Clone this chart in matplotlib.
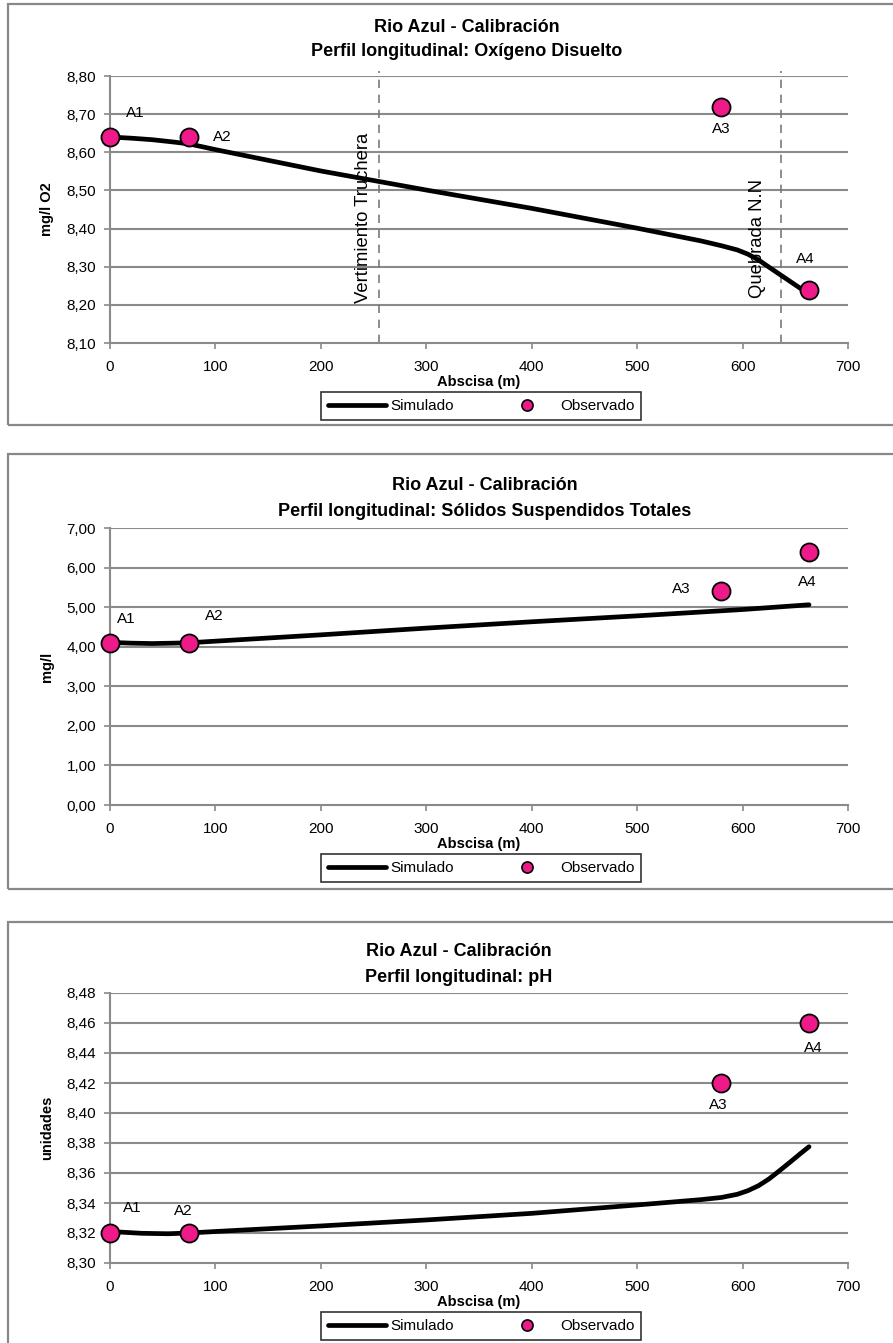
import matplotlib
matplotlib.use("Agg")
import matplotlib.pyplot as plt
from matplotlib.patches import Rectangle
from matplotlib.lines import Line2D
from matplotlib.ticker import FuncFormatter
from matplotlib import font_manager

# ---------------- data ----------------
obs_x = [0, 75, 580, 663]
obs_labels = ["A1", "A2", "A3", "A4"]

# Oxigeno disuelto
od_obs = [8.64, 8.64, 8.72, 8.24]
od_sim_x = [0, 20, 40, 60, 75, 100, 200, 300, 400, 500, 560, 580, 595, 605, 615, 625, 640, 663]
od_sim_y = [8.640, 8.637, 8.633, 8.627, 8.622, 8.607, 8.551, 8.501, 8.453, 8.401, 8.368,
            8.355, 8.344, 8.333, 8.318, 8.299, 8.271, 8.228]

# Solidos suspendidos totales
sst_obs = [4.10, 4.10, 5.40, 6.40]
sst_sim_x = [0, 20, 40, 60, 75, 100, 200, 300, 400, 500, 600, 663]
sst_sim_y = [4.11, 4.09, 4.08, 4.09, 4.10, 4.14, 4.30, 4.47, 4.63, 4.78, 4.94, 5.06]

# pH
ph_obs = [8.32, 8.32, 8.42, 8.46]
ph_sim_x = [0, 30, 55, 75, 100, 200, 300, 400, 500, 560, 580, 595, 605, 615, 625, 635, 645, 655, 663]
ph_sim_y = [8.321, 8.3198, 8.3195, 8.320, 8.321, 8.3247, 8.3287, 8.3331, 8.3387, 8.3422,
            8.3437, 8.3458, 8.3482, 8.3515, 8.3560, 8.3615, 8.3672, 8.3730, 8.3775]

vlines_x = [255, 636]
vlines_txt = ["Vertimiento Truchera", "Quebrada N.N"]
vlines_txt_x = [240, 614]
vlines_txt_y = [8.205, 8.218]

title_line1 = ["Rio Azul - Calibración"] * 3
title_line2 = ["Perfil longitudinal: Oxígeno Disuelto",
               "Perfil longitudinal: Sólidos Suspendidos Totales",
               "Perfil longitudinal: pH"]
ylabels = ["mg/l O2", "mg/l", "unidades"]
xticks = [0, 100, 200, 300, 400, 500, 600, 700]

# ---------------- style ----------------
avail = {f.name for f in font_manager.fontManager.ttflist}
base = "Liberation Sans" if "Liberation Sans" in avail else "DejaVu Sans"
plt.rcParams['font.family'] = [base, 'DejaVu Sans']

PINK = "#EE1A8A"
GRID = "#8A8A8A"

W, H = 893, 1343
fig = plt.figure(figsize=(W / 100, H / 100), dpi=100)

def frac_rect(x0, y0, x1, y1):
    return [x0 / W, 1 - y1 / H, (x1 - x0) / W, (y1 - y0) / H]

# panel borders
for (y0, y1) in [(4, 425), (454, 889), (922, 1350)]:
    fig.patches.append(Rectangle((8 / W, 1 - y1 / H), (905 - 8) / W, (y1 - y0) / H,
                                 transform=fig.transFigure, fill=False,
                                 edgecolor="#888888", linewidth=1.6))

axes_px = [(110, 76, 848, 343), (110, 528, 848, 805), (110, 993, 848, 1263)]
ylims = [(8.10, 8.80), (0.0, 7.0), (8.30, 8.48)]
ysteps = [0.10, 1.0, 0.02]
sims = [(od_sim_x, od_sim_y), (sst_sim_x, sst_sim_y), (ph_sim_x, ph_sim_y)]
obss = [od_obs, sst_obs, ph_obs]
title_pos = [(467, 25, 50), (485, 483, 509), (459, 950, 976)]

# label offsets (points) per panel and point
label_offsets = [
    [(18, 17), (24, 0), (0, -16), (-3, 22)],
    [(12, 17), (18, 19), (-29, 2), (-1, -22)],
    [(16, 18), (-4, 16), (-2, -16), (3, -18)],
]

comma = FuncFormatter(lambda v, p: ("%.2f" % v).replace(".", ","))

for i in range(3):
    x0, y0, x1, y1 = axes_px[i]
    hpx = y1 - y0
    ax = fig.add_axes(frac_rect(x0, y0, x1, y1))
    lo, hi = ylims[i]
    n = int(round((hi - lo) / ysteps[i]))
    yt = [lo + k * ysteps[i] for k in range(n + 1)]
    ax.set_xlim(0, 700)
    ax.set_ylim(lo, hi)
    ax.set_xticks(xticks)
    ax.set_yticks(yt)
    ax.yaxis.set_major_formatter(comma)
    for yv in yt[1:]:
        ax.axhline(yv, color=GRID, lw=1.5, zorder=1)
    for s in ["top", "right"]:
        ax.spines[s].set_visible(False)
    for s in ["left", "bottom"]:
        ax.spines[s].set_color(GRID)
        ax.spines[s].set_linewidth(1.5)
    ax.tick_params(axis="both", colors=GRID, labelcolor="black", labelsize=11,
                   length=4, width=1.2, direction="out")
    ax.tick_params(axis="x", pad=8)
    ax.tick_params(axis="y", pad=6)

    sx, sy = sims[i]
    ax.plot(sx, sy, color="black", lw=3.4, solid_capstyle="round",
            solid_joinstyle="round", zorder=3)
    ax.plot(obs_x, obss[i], linestyle="none", marker="o", markersize=13,
            markerfacecolor=PINK, markeredgecolor="black", markeredgewidth=1.3,
            zorder=4, clip_on=False)
    for j, lab in enumerate(obs_labels):
        ax.annotate(lab, (obs_x[j], obss[i][j]), xytext=label_offsets[i][j],
                    textcoords="offset points", ha="center", va="center",
                    fontsize=11, zorder=5)

    if i == 0:
        for xv, txt, tx, ty in zip(vlines_x, vlines_txt, vlines_txt_x, vlines_txt_y):
            ax.axvline(xv, ymin=0, ymax=1.02, color="#7a7a7a", lw=1.2,
                       ls=(0, (5, 4)), zorder=2, clip_on=False)
            ax.text(tx, ty, txt, rotation=90, ha="center", va="bottom",
                    fontsize=13.3, zorder=5)

    ax.set_ylabel(ylabels[i], fontsize=10.5, fontweight="bold")
    ax.yaxis.set_label_coords(-(110 - 54) / 738, 0.5)
    ax.set_xlabel("Abscisa (m)", fontsize=10.5, fontweight="bold")
    ax.xaxis.set_label_coords(0.5, -32 / hpx)

    tx, ty1, ty2 = title_pos[i]
    fig.text(tx / W, 1 - ty1 / H, title_line1[i], ha="center", va="center_baseline",
             fontsize=13, fontweight="bold")
    fig.text(tx / W, 1 - ty2 / H, title_line2[i], ha="center", va="center_baseline",
             fontsize=13, fontweight="bold")

    handles = [Line2D([], [], color="black", lw=3.4, solid_capstyle="round"),
               Line2D([], [], ls="none", marker="o", markersize=8,
                      markerfacecolor=PINK, markeredgecolor="black", markeredgewidth=1.2)]
    leg = ax.legend(handles, ["Simulado", "Observado"], ncol=2, loc="upper center",
                    bbox_to_anchor=(0.503, -49 / hpx), borderaxespad=0, frameon=True,
                    fancybox=False, edgecolor="black",
                    handlelength=3.8, handletextpad=0.25, columnspacing=2.9,
                    borderpad=0.45, prop={'size': 11})
    leg.get_frame().set_linewidth(1.2)

fig.savefig("out.png", dpi=100)
